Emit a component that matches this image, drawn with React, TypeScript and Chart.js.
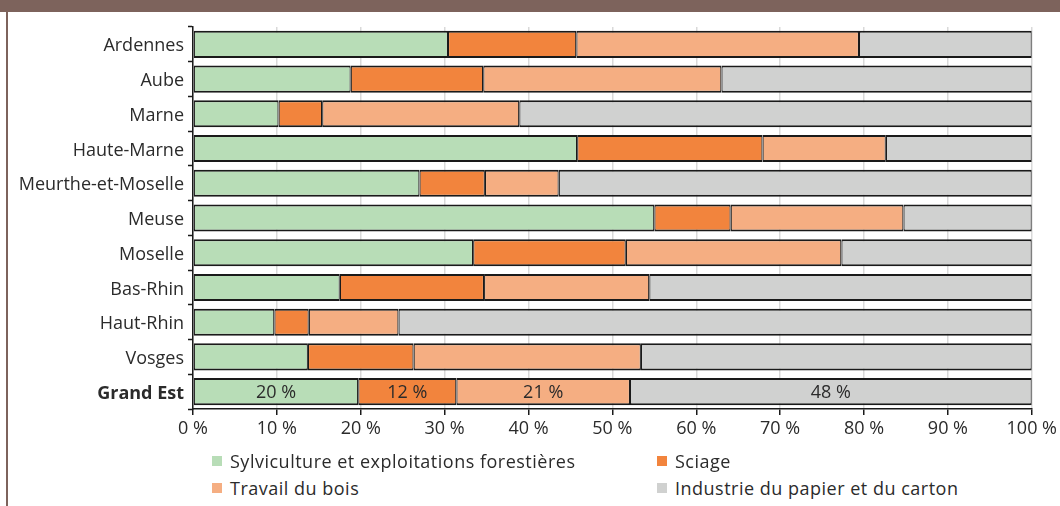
import React, { useEffect, useRef } from "react";
import { Chart, registerables } from "chart.js";

Chart.register(...registerables);

const categories = [
  "Ardennes",
  "Aube",
  "Marne",
  "Haute-Marne",
  "Meurthe-et-Moselle",
  "Meuse",
  "Moselle",
  "Bas-Rhin",
  "Haut-Rhin",
  "Vosges",
  "Grand Est",
];

const seriesNames = [
  "Sylviculture et exploitations forestières",
  "Sciage",
  "Travail du bois",
  "Industrie du papier et du carton",
];

const sylviculture = [30.4, 18.8, 10.2, 45.8, 27.0, 55.0, 33.4, 17.5, 9.7, 13.7, 19.7];
const sciage = [15.3, 15.8, 5.2, 22.1, 7.8, 9.1, 18.2, 17.2, 4.1, 12.6, 11.7];
const travail = [33.7, 28.4, 23.5, 14.7, 8.8, 20.6, 25.7, 19.7, 10.7, 27.1, 20.7];
const papier = [20.6, 37.0, 61.1, 17.4, 56.4, 15.3, 22.7, 45.6, 75.5, 46.6, 47.9];

const grandEstLabels = ["20 %", "12 %", "21 %", "48 %"];
const xTickValues = [0, 10, 20, 30, 40, 50, 60, 70, 80, 90, 100];

const colors = ["#b8ddb7", "#f2843d", "#f5ae82", "#d0d1d0"];
const FONT = "'Open Sans', Lato, sans-serif";
const TEXT = "#2b2b2b";
const FS = 18;

const labelPlugin = {
  id: "grandEstLabels",
  afterDatasetsDraw(chart: any) {
    const ctx = chart.ctx;
    const last = categories.length - 1;
    ctx.save();
    ctx.font = `${FS}px ${FONT}`;
    ctx.fillStyle = TEXT;
    ctx.textAlign = "center";
    ctx.textBaseline = "middle";
    chart.data.datasets.forEach((_: any, i: number) => {
      const el = chart.getDatasetMeta(i).data[last];
      if (!el) return;
      const p = el.getProps(["x", "y", "base"], true);
      ctx.fillText(grandEstLabels[i], (p.x + p.base) / 2, p.y + 1);
    });
    ctx.restore();
  },
};

export default function App() {
  const ref = useRef<HTMLCanvasElement>(null);

  useEffect(() => {
    if (!ref.current) return;
    const data = [sylviculture, sciage, travail, papier];
    const chart = new Chart(ref.current, {
      type: "bar",
      data: {
        labels: categories,
        datasets: data.map((d, i) => ({
          label: seriesNames[i],
          data: d,
          backgroundColor: colors[i],
          borderColor: "#1a1a1a",
          borderWidth: { top: 2, bottom: 2, left: 1.2, right: 1.2 },
          borderSkipped: false,
          barPercentage: 0.78,
          categoryPercentage: 1,
        })),
      },
      options: {
        indexAxis: "y",
        animation: false,
        responsive: false,
        maintainAspectRatio: false,
        layout: { padding: { top: 15, right: 27, left: 0, bottom: 0 } },
        plugins: {
          legend: { display: false },
          tooltip: { enabled: false },
        },
        scales: {
          x: {
            stacked: true,
            min: 0,
            max: 100,
            afterBuildTicks: (scale: any) => {
              scale.ticks = xTickValues.map((v) => ({ value: v }));
            },
            afterFit: (scale: any) => {
              scale.height = 43;
            },
            ticks: {
              callback: (v: any) => `${v} %`,
              font: { family: FONT, size: FS },
              color: TEXT,
              padding: 3,
              maxRotation: 0,
            },
            grid: {
              color: "#d9d9d9",
              lineWidth: 1.5,
              tickColor: "#1a1a1a",
              tickLength: 6,
              tickWidth: 1.5,
            },
            border: { color: "#1a1a1a", width: 1.5 },
          },
          y: {
            stacked: true,
            afterFit: (scale: any) => {
              scale.width = 193;
            },
            ticks: {
              font: (ctx: any) => ({
                family: FONT,
                size: FS,
                weight: ctx.index === categories.length - 1 ? "bold" : "normal",
              }),
              color: TEXT,
              padding: 4,
              labelOffset: 2,
            },
            grid: {
              offset: true,
              drawOnChartArea: false,
              drawTicks: true,
              tickLength: 5,
              tickColor: "#1a1a1a",
              tickWidth: 1.5,
            },
            border: { color: "#1a1a1a", width: 1.5 },
          },
        },
      },
      plugins: [labelPlugin],
    });
    return () => chart.destroy();
  }, []);

  const legendItem = (i: number, left: number, top: number) => (
    <div
      key={i}
      style={{
        position: "absolute",
        left,
        top,
        display: "flex",
        alignItems: "center",
        fontFamily: FONT,
        fontSize: FS,
        color: TEXT,
        whiteSpace: "nowrap",
        lineHeight: "22px",
        letterSpacing: "0.5px",
      }}
    >
      <span
        style={{
          display: "inline-block",
          width: 10,
          height: 10,
          background: colors[i],
          marginRight: 8,
        }}
      />
      {seriesNames[i]}
    </div>
  );

  return (
    <div
      style={{
        position: "absolute",
        left: 0,
        top: 0,
        width: 1060,
        height: 506,
        background: "#fff",
        overflow: "hidden",
      }}
    >
      <div style={{ position: "absolute", left: 0, top: 0, width: 1060, height: 12, background: "#7d635c" }} />
      <div style={{ position: "absolute", left: 6, top: 12, width: 2, height: 494, background: "#7d635c" }} />
      <canvas
        ref={ref}
        width={1060}
        height={440}
        style={{ position: "absolute", left: 0, top: 12, width: 1060, height: 440 }}
      />
      {legendItem(0, 212, 450)}
      {legendItem(1, 657, 450)}
      {legendItem(2, 212, 477)}
      {legendItem(3, 657, 477)}
    </div>
  );
}
